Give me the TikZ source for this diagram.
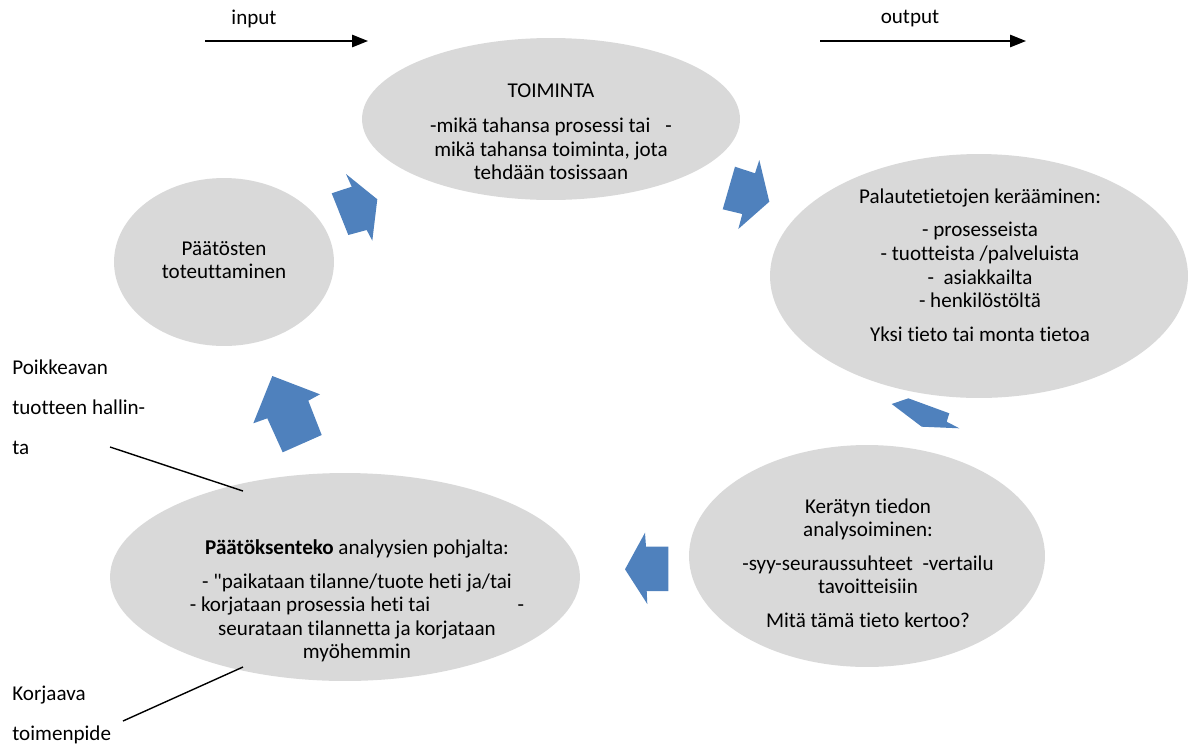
\documentclass[tikz,border=0pt]{standalone}
\usepackage{fontspec}
\setmainfont{Carlito}[Ligatures={TeXOff,CommonOff}]
\usepackage{tikz}
\usetikzlibrary{arrows.meta,shapes.geometric}

\definecolor{blobgray}{RGB}{217,217,217}
\definecolor{flowblue}{RGB}{79,129,189}

\begin{document}
\begin{tikzpicture}[x=0.02cm,y=-0.02cm,
                    blob/.style={ellipse,fill=blobgray,inner sep=0pt},
                    txt/.style={align=center,inner sep=0pt,font=\fontsize{12}{13.4}\selectfont},
                    side/.style={align=left,anchor=north west,inner sep=0pt,font=\fontsize{12}{22.7}\selectfont},
                    flow/.style={fill=flowblue},
                    io/.style={-{Triangle[length=9pt,width=7pt]},thick}]

  \useasboundingbox (0,0) rectangle (1196,744);

  % the five phases
  \node[blob,minimum width=7.56cm,minimum height=3.24cm] (toim)    at (551,119) {};
  \node[blob,minimum width=8.36cm,minimum height=4.88cm] (palaute) at (979,276) {};
  \node[blob,minimum width=7.12cm,minimum height=4.44cm] (kerat)   at (867,556) {};
  \node[blob,minimum width=9.40cm,minimum height=4.16cm] (paatos)  at (345,577) {};
  \node[blob,minimum width=4.40cm,minimum height=3.36cm] (toteut)  at (224,262) {};

  \node[txt] (toim-t) at (551,132) {TOIMINTA\\[0.22cm]
        -mikä tahansa prosessi tai\hspace{0.3cm}-\\
        mikä tahansa toiminta, jota\\ tehdään tosissaan};
  \node[txt] (palaute-t) at (980,265) {Palautetietojen kerääminen:\\[0.2cm]
        - prosesseista\\ - tuotteista /palveluista\\ -\ \ asiakkailta\\ - henkilöstöltä\\[0.2cm]
        Yksi tieto tai monta tietoa};
  \node[txt] (kerat-t) at (868,563) {Kerätyn tiedon\\ analysoiminen:\\[0.2cm]
        -syy-seuraussuhteet\ \ -vertailu\\ tavoitteisiin\\[0.2cm]
        Mitä tämä tieto kertoo?};
  \node[txt] (paatos-t) at (357,601) {\textbf{Päätöksenteko} analyysien pohjalta:\\[0.2cm]
        - "paikataan tilanne/tuote heti ja/tai\\
        - korjataan prosessia heti tai\hspace{1.75cm}-\\
        seurataan tilannetta ja korjataan\\ myöhemmin};
  \node[txt] (toteut-t) at (224,260) {Päätösten\\ toteuttaminen};

  % block arrows between the phases
  \fill[flow] (346,174) -- (351.7,186.7) -- (331.7,193.3) -- (348.3,235) -- (366.7,230)
              -- (372.3,240.7) -- (377.3,199.3) -- cycle;
  \fill[flow] (759.3,160) -- (755,173.3) -- (735,166.7) -- (722.7,209.3) -- (742.3,214)
              -- (738.3,229) -- (769.3,201.7) -- cycle;
  \fill[flow] (891.7,404) -- (908.3,398.3) -- (949.3,413.3) -- (946.7,421.7)
              -- (959.3,428.3) -- (921.7,426.7) -- cycle;
  \fill[flow] (625,569.3) -- (645,532.7) -- (646,546.7) -- (668.3,546.7) -- (668.3,591)
              -- (646.7,591) -- (647.3,604) -- cycle;
  \fill[flow] (272.3,376) -- (320,394.3) -- (308.3,400.7) -- (321.7,435) -- (282.7,452.3)
              -- (267.3,418.3) -- (253.3,423.3) -- cycle;

  % input and output
  \node[txt] (in)  at (254,19) {input};
  \node[txt] (out) at (910,19) {output};
  \coordinate (in-a)  at (205,41);
  \coordinate (in-b)  at (368,41);
  \coordinate (out-a) at (820,41);
  \coordinate (out-b) at (1026,41);
  \draw[io] (in-a) -- (in-b);
  \draw[io] (out-a) -- (out-b);

  % side notes
  \node[side] (poikk) at (12,360) {Poikkeavan\\ tuotteen hallin-\\ ta};
  \node[side] (korj)  at (12,686) {Korjaava\\ toimenpide};
  \coordinate (poikk-a) at (110,447);
  \coordinate (poikk-b) at (243,491);
  \coordinate (korj-a)  at (123,721);
  \coordinate (korj-b)  at (243,667);
  \draw[thick] (poikk-a) -- (poikk-b);
  \draw[thick] (korj-a) -- (korj-b);

\end{tikzpicture}
\end{document}
